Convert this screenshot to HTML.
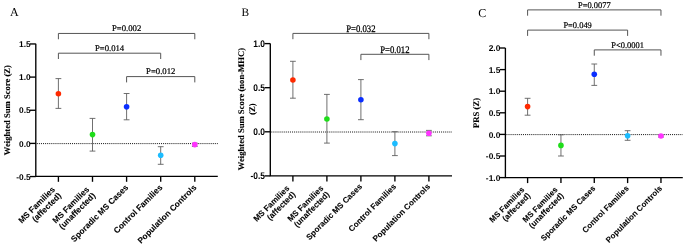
<!DOCTYPE html><html><head><meta charset="utf-8"><style>html,body{margin:0;padding:0;background:#fff;}svg{display:block;will-change:transform;text-rendering:geometricPrecision;}.tl{font-family:"Liberation Sans",sans-serif;font-weight:bold;font-size:8.4px;fill:#000;}.xl{font-family:"Liberation Sans",sans-serif;font-weight:bold;font-size:8.3px;fill:#000;stroke:#000;stroke-width:0.1px;}.yl{font-family:"Liberation Serif",serif;font-weight:bold;font-size:8.65px;fill:#000;stroke:#000;stroke-width:0.12px;}.pv{font-family:"Liberation Serif",serif;font-size:8.7px;fill:#000;stroke:#000;stroke-width:0.22px;}.lt{font-family:"Liberation Serif",serif;font-size:12px;fill:#000;}</style></head><body><svg width="685" height="244" viewBox="0 0 685 244">
<text class="lt" x="9.9" y="15.9" style="font-size:12px">A</text>
<line x1="36.8" y1="143.60" x2="217.8" y2="143.60" stroke="#1a1a1a" stroke-width="1.0" stroke-dasharray="1.05 1.02"/>
<path d="M35.80 43.85 V176.30 H217.80" fill="none" stroke="#000" stroke-width="1.35"/>
<line x1="30.00" y1="43.95" x2="35.80" y2="43.95" stroke="#000" stroke-width="1.35"/>
<text class="tl" text-anchor="end" transform="translate(30.70,47.15) scale(1,1.0)">1.5</text>
<line x1="30.00" y1="77.10" x2="35.80" y2="77.10" stroke="#000" stroke-width="1.35"/>
<text class="tl" text-anchor="end" transform="translate(30.70,80.30) scale(1,1.0)">1.0</text>
<line x1="30.00" y1="110.25" x2="35.80" y2="110.25" stroke="#000" stroke-width="1.35"/>
<text class="tl" text-anchor="end" transform="translate(30.70,113.45) scale(1,1.0)">0.5</text>
<line x1="30.00" y1="143.40" x2="35.80" y2="143.40" stroke="#000" stroke-width="1.35"/>
<text class="tl" text-anchor="end" transform="translate(30.70,146.60) scale(1,1.0)">0.0</text>
<line x1="30.00" y1="176.55" x2="35.80" y2="176.55" stroke="#000" stroke-width="1.35"/>
<text class="tl" text-anchor="end" transform="translate(30.70,179.75) scale(1,1.0)">-0.5</text>
<line x1="58.40" y1="176.30" x2="58.40" y2="181.80" stroke="#000" stroke-width="1.35"/>
<line x1="92.50" y1="176.30" x2="92.50" y2="181.80" stroke="#000" stroke-width="1.35"/>
<line x1="126.60" y1="176.30" x2="126.60" y2="181.80" stroke="#000" stroke-width="1.35"/>
<line x1="160.70" y1="176.30" x2="160.70" y2="181.80" stroke="#000" stroke-width="1.35"/>
<line x1="194.80" y1="176.30" x2="194.80" y2="181.80" stroke="#000" stroke-width="1.35"/>
<text class="yl" text-anchor="middle" transform="translate(9.60,110.10) rotate(-90)" x="0" y="0">Weighted Sum Score (Z)</text>
<path d="M58.40 78.60 V108.40 M55.50 78.60 H61.30 M55.50 108.40 H61.30" stroke="#606060" stroke-width="0.9" fill="none"/>
<circle cx="58.40" cy="93.70" r="2.8" fill="#ff2a00"/>
<path d="M92.50 118.40 V151.10 M89.60 118.40 H95.40 M89.60 151.10 H95.40" stroke="#606060" stroke-width="0.9" fill="none"/>
<circle cx="92.50" cy="134.60" r="2.8" fill="#1fdd1a"/>
<path d="M126.60 93.50 V119.80 M123.70 93.50 H129.50 M123.70 119.80 H129.50" stroke="#606060" stroke-width="0.9" fill="none"/>
<circle cx="126.60" cy="106.80" r="2.8" fill="#0a2eff"/>
<path d="M160.70 146.70 V164.30 M157.80 146.70 H163.60 M157.80 164.30 H163.60" stroke="#606060" stroke-width="0.9" fill="none"/>
<circle cx="160.70" cy="155.30" r="2.8" fill="#1cbcff"/>
<path d="M194.80 143.20 V146.30 M191.90 143.20 H197.70 M191.90 146.30 H197.70" stroke="#606060" stroke-width="0.9" fill="none"/>
<circle cx="194.80" cy="144.60" r="2.8" fill="#ff33ff"/>
<path d="M58.40 39.25 V33.45 H194.80 V39.25" fill="none" stroke="#555" stroke-width="1"/>
<text class="pv" text-anchor="middle" transform="translate(126.60,30.85) scale(1.0,1.0)">P=0.002</text>
<path d="M58.40 59.00 V53.20 H160.70 V59.00" fill="none" stroke="#555" stroke-width="1"/>
<text class="pv" text-anchor="middle" transform="translate(109.55,50.60) scale(1.0,1.0)">P=0.014</text>
<path d="M126.60 82.40 V76.60 H194.80 V82.40" fill="none" stroke="#555" stroke-width="1"/>
<text class="pv" text-anchor="middle" transform="translate(160.70,74.00) scale(1.0,1.0)">P=0.012</text>
<text class="xl" text-anchor="end" transform="translate(55.60,189.90) scale(1,1) rotate(-45)">MS Families</text>
<text class="xl" text-anchor="end" transform="translate(61.80,196.10) scale(1,1) rotate(-45)">(affected)</text>
<text class="xl" text-anchor="end" transform="translate(89.70,189.90) scale(1,1) rotate(-45)">MS Families</text>
<text class="xl" text-anchor="end" transform="translate(95.90,196.10) scale(1,1) rotate(-45)">(unaffected)</text>
<text class="xl" text-anchor="end" transform="translate(128.80,188.00) scale(1,1) rotate(-45)">Sporadic MS Cases</text>
<text class="xl" text-anchor="end" transform="translate(162.90,188.00) scale(1,1) rotate(-45)">Control Families</text>
<text class="xl" text-anchor="end" transform="translate(197.00,188.00) scale(1,1) rotate(-45)">Population Controls</text>
<text class="lt" x="241.6" y="15.8" style="font-size:11.4px">B</text>
<line x1="271.3" y1="132.00" x2="452.0" y2="132.00" stroke="#1a1a1a" stroke-width="1.0" stroke-dasharray="1.05 1.02"/>
<path d="M270.30 43.60 V175.90 H452.00" fill="none" stroke="#000" stroke-width="1.35"/>
<line x1="264.50" y1="43.60" x2="270.30" y2="43.60" stroke="#000" stroke-width="1.35"/>
<text class="tl" text-anchor="end" transform="translate(265.00,47.00) scale(1,1.15)">1.0</text>
<line x1="264.50" y1="87.70" x2="270.30" y2="87.70" stroke="#000" stroke-width="1.35"/>
<text class="tl" text-anchor="end" transform="translate(265.00,91.10) scale(1,1.15)">0.5</text>
<line x1="264.50" y1="131.80" x2="270.30" y2="131.80" stroke="#000" stroke-width="1.35"/>
<text class="tl" text-anchor="end" transform="translate(265.00,135.20) scale(1,1.15)">0.0</text>
<line x1="264.50" y1="175.90" x2="270.30" y2="175.90" stroke="#000" stroke-width="1.35"/>
<text class="tl" text-anchor="end" transform="translate(265.00,179.30) scale(1,1.15)">-0.5</text>
<line x1="292.90" y1="175.90" x2="292.90" y2="181.40" stroke="#000" stroke-width="1.35"/>
<line x1="326.90" y1="175.90" x2="326.90" y2="181.40" stroke="#000" stroke-width="1.35"/>
<line x1="360.90" y1="175.90" x2="360.90" y2="181.40" stroke="#000" stroke-width="1.35"/>
<line x1="394.90" y1="175.90" x2="394.90" y2="181.40" stroke="#000" stroke-width="1.35"/>
<line x1="428.90" y1="175.90" x2="428.90" y2="181.40" stroke="#000" stroke-width="1.35"/>
<text class="yl" text-anchor="middle" transform="translate(243.60,109.10) rotate(-90)" x="0" y="0">Weighted Sum Score (non-MHC)</text>
<text class="yl" text-anchor="middle" transform="translate(254.60,109.10) rotate(-90)" x="0" y="0">(Z)</text>
<path d="M292.90 61.30 V98.20 M290.00 61.30 H295.80 M290.00 98.20 H295.80" stroke="#606060" stroke-width="0.9" fill="none"/>
<circle cx="292.90" cy="80.00" r="2.8" fill="#ff2a00"/>
<path d="M326.90 94.40 V143.10 M324.00 94.40 H329.80 M324.00 143.10 H329.80" stroke="#606060" stroke-width="0.9" fill="none"/>
<circle cx="326.90" cy="119.00" r="2.8" fill="#1fdd1a"/>
<path d="M360.90 79.60 V119.70 M358.00 79.60 H363.80 M358.00 119.70 H363.80" stroke="#606060" stroke-width="0.9" fill="none"/>
<circle cx="360.90" cy="99.75" r="2.8" fill="#0a2eff"/>
<path d="M394.90 131.70 V155.60 M392.00 131.70 H397.80 M392.00 155.60 H397.80" stroke="#606060" stroke-width="0.9" fill="none"/>
<circle cx="394.90" cy="143.60" r="2.8" fill="#1cbcff"/>
<path d="M428.90 130.40 V135.80 M426.00 130.40 H431.80 M426.00 135.80 H431.80" stroke="#606060" stroke-width="0.9" fill="none"/>
<circle cx="428.90" cy="133.20" r="2.8" fill="#ff33ff"/>
<path d="M292.90 39.20 V33.40 H428.90 V39.20" fill="none" stroke="#555" stroke-width="1"/>
<text class="pv" text-anchor="middle" transform="translate(360.90,31.70) scale(1.0,1.15)">P=0.032</text>
<path d="M360.90 60.10 V54.30 H428.90 V60.10" fill="none" stroke="#555" stroke-width="1"/>
<text class="pv" text-anchor="middle" transform="translate(394.90,52.60) scale(1.0,1.15)">P=0.012</text>
<text class="xl" text-anchor="end" transform="translate(289.90,188.80) scale(0.975,0.98) rotate(-45)">MS Families</text>
<text class="xl" text-anchor="end" transform="translate(295.94,194.88) scale(0.975,0.98) rotate(-45)">(affected)</text>
<text class="xl" text-anchor="end" transform="translate(323.90,188.80) scale(0.975,0.98) rotate(-45)">MS Families</text>
<text class="xl" text-anchor="end" transform="translate(329.94,194.88) scale(0.975,0.98) rotate(-45)">(unaffected)</text>
<text class="xl" text-anchor="end" transform="translate(362.60,187.10) scale(0.975,0.98) rotate(-45)">Sporadic MS Cases</text>
<text class="xl" text-anchor="end" transform="translate(396.60,187.10) scale(0.975,0.98) rotate(-45)">Control Families</text>
<text class="xl" text-anchor="end" transform="translate(430.60,187.10) scale(0.975,0.98) rotate(-45)">Population Controls</text>
<text class="lt" x="478.2" y="16.5" style="font-size:12px">C</text>
<line x1="506.4" y1="134.60" x2="682.8" y2="134.60" stroke="#1a1a1a" stroke-width="1.0" stroke-dasharray="1.05 1.02"/>
<path d="M505.40 48.00 V177.60 H682.80" fill="none" stroke="#000" stroke-width="1.35"/>
<line x1="499.60" y1="48.00" x2="505.40" y2="48.00" stroke="#000" stroke-width="1.35"/>
<text class="tl" text-anchor="end" transform="translate(500.30,51.20) scale(1,1.0)">2.0</text>
<line x1="499.60" y1="69.60" x2="505.40" y2="69.60" stroke="#000" stroke-width="1.35"/>
<text class="tl" text-anchor="end" transform="translate(500.30,72.80) scale(1,1.0)">1.5</text>
<line x1="499.60" y1="91.20" x2="505.40" y2="91.20" stroke="#000" stroke-width="1.35"/>
<text class="tl" text-anchor="end" transform="translate(500.30,94.40) scale(1,1.0)">1.0</text>
<line x1="499.60" y1="112.80" x2="505.40" y2="112.80" stroke="#000" stroke-width="1.35"/>
<text class="tl" text-anchor="end" transform="translate(500.30,116.00) scale(1,1.0)">0.5</text>
<line x1="499.60" y1="134.40" x2="505.40" y2="134.40" stroke="#000" stroke-width="1.35"/>
<text class="tl" text-anchor="end" transform="translate(500.30,137.60) scale(1,1.0)">0.0</text>
<line x1="499.60" y1="156.00" x2="505.40" y2="156.00" stroke="#000" stroke-width="1.35"/>
<text class="tl" text-anchor="end" transform="translate(500.30,159.20) scale(1,1.0)">-0.5</text>
<line x1="499.60" y1="177.60" x2="505.40" y2="177.60" stroke="#000" stroke-width="1.35"/>
<text class="tl" text-anchor="end" transform="translate(500.30,180.80) scale(1,1.0)">-1.0</text>
<line x1="527.60" y1="177.60" x2="527.60" y2="183.10" stroke="#000" stroke-width="1.35"/>
<line x1="560.94" y1="177.60" x2="560.94" y2="183.10" stroke="#000" stroke-width="1.35"/>
<line x1="594.28" y1="177.60" x2="594.28" y2="183.10" stroke="#000" stroke-width="1.35"/>
<line x1="627.62" y1="177.60" x2="627.62" y2="183.10" stroke="#000" stroke-width="1.35"/>
<line x1="660.96" y1="177.60" x2="660.96" y2="183.10" stroke="#000" stroke-width="1.35"/>
<text class="yl" text-anchor="middle" transform="translate(478.70,112.95) rotate(-90)" x="0" y="0">PRS (Z)</text>
<path d="M527.60 98.30 V115.20 M524.70 98.30 H530.50 M524.70 115.20 H530.50" stroke="#606060" stroke-width="0.9" fill="none"/>
<circle cx="527.60" cy="106.60" r="2.8" fill="#ff2a00"/>
<path d="M560.94 134.80 V156.00 M558.04 134.80 H563.84 M558.04 156.00 H563.84" stroke="#606060" stroke-width="0.9" fill="none"/>
<circle cx="560.94" cy="145.40" r="2.8" fill="#1fdd1a"/>
<path d="M594.28 64.00 V85.40 M591.38 64.00 H597.18 M591.38 85.40 H597.18" stroke="#606060" stroke-width="0.9" fill="none"/>
<circle cx="594.28" cy="74.30" r="2.8" fill="#0a2eff"/>
<path d="M627.62 130.70 V140.30 M624.72 130.70 H630.52 M624.72 140.30 H630.52" stroke="#606060" stroke-width="0.9" fill="none"/>
<circle cx="627.62" cy="135.70" r="2.8" fill="#1cbcff"/>
<path d="M660.96 135.00 V137.00 M658.06 135.00 H663.86 M658.06 137.00 H663.86" stroke="#606060" stroke-width="0.9" fill="none"/>
<circle cx="660.96" cy="136.00" r="2.8" fill="#ff33ff"/>
<path d="M527.60 15.70 V9.90 H660.96 V15.70" fill="none" stroke="#555" stroke-width="1"/>
<text class="pv" text-anchor="middle" transform="translate(594.28,8.00) scale(0.972,1.0)">P=0.0077</text>
<path d="M527.60 35.90 V30.10 H627.62 V35.90" fill="none" stroke="#555" stroke-width="1"/>
<text class="pv" text-anchor="middle" transform="translate(577.61,28.20) scale(0.972,1.0)">P=0.049</text>
<path d="M594.28 55.70 V49.90 H660.96 V55.70" fill="none" stroke="#555" stroke-width="1"/>
<text class="pv" text-anchor="middle" transform="translate(627.62,48.00) scale(0.972,1.0)">P&lt;0.0001</text>
<text class="xl" text-anchor="end" transform="translate(524.90,190.20) scale(0.955,0.97) rotate(-45)">MS Families</text>
<text class="xl" text-anchor="end" transform="translate(530.82,196.21) scale(0.955,0.97) rotate(-45)">(affected)</text>
<text class="xl" text-anchor="end" transform="translate(558.24,190.20) scale(0.955,0.97) rotate(-45)">MS Families</text>
<text class="xl" text-anchor="end" transform="translate(564.16,196.21) scale(0.955,0.97) rotate(-45)">(unaffected)</text>
<text class="xl" text-anchor="end" transform="translate(595.98,188.80) scale(0.955,0.97) rotate(-45)">Sporadic MS Cases</text>
<text class="xl" text-anchor="end" transform="translate(629.32,188.80) scale(0.955,0.97) rotate(-45)">Control Families</text>
<text class="xl" text-anchor="end" transform="translate(662.66,188.80) scale(0.955,0.97) rotate(-45)">Population Controls</text>
</svg></body></html>
